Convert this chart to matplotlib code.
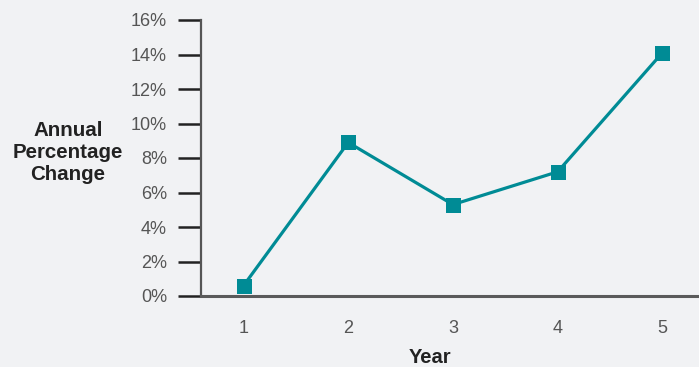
import matplotlib.pyplot as plt
from matplotlib.ticker import FuncFormatter

plt.rcParams['font.family'] = ['Liberation Sans', 'DejaVu Sans']

# annual change by year
years = [1, 2, 3, 4, 5]
pct_change = [0.6, 8.9, 5.3, 7.2, 14.1]
y_ticks = [0, 2, 4, 6, 8, 10, 12, 14, 16]

bg = '#f1f2f4'
teal = '#008b95'

fig = plt.figure(figsize=(6.99, 3.67), dpi=100, facecolor=bg)
ax = fig.add_axes([201 / 699, 1 - 296 / 367, 1 - 201 / 699, 276 / 367])
ax.set_facecolor(bg)

ax.plot(years, pct_change, color=teal, lw=2.3, marker='s', markersize=10.8,
        markeredgewidth=0, clip_on=False, zorder=3)

ax.set_xlim(0.594, 5.35)
ax.set_ylim(0, 16)
ax.set_xticks(years)
ax.set_yticks(y_ticks)
ax.yaxis.set_major_formatter(FuncFormatter(lambda v, _: f'{v:.0f}%'))

for side in ('top', 'right'):
    ax.spines[side].set_visible(False)
ax.spines['left'].set_color('#555555')
ax.spines['left'].set_linewidth(1.6)
ax.spines['bottom'].set_color('#5a5a5a')
ax.spines['bottom'].set_linewidth(2.2)

ax.tick_params(axis='y', length=16.5, width=1.8, color='#222222', pad=8,
               labelsize=13, labelcolor='#555555')
ax.tick_params(axis='x', length=0, pad=17, labelsize=13, labelcolor='#555555')

ax.set_xlabel('Year', fontsize=14.5, fontweight='bold', color='#222222')
ax.xaxis.set_label_coords((430 - 201) / 498, -0.19)
ax.set_ylabel('Annual\nPercentage\nChange', fontsize=14.8, fontweight='bold',
              color='#222222', rotation=0, ha='center', va='center', linespacing=1.2)
ax.yaxis.set_label_coords((68 - 201) / 498, (296 - 152) / 276)

fig.savefig('out.png', dpi=100, facecolor=bg)
